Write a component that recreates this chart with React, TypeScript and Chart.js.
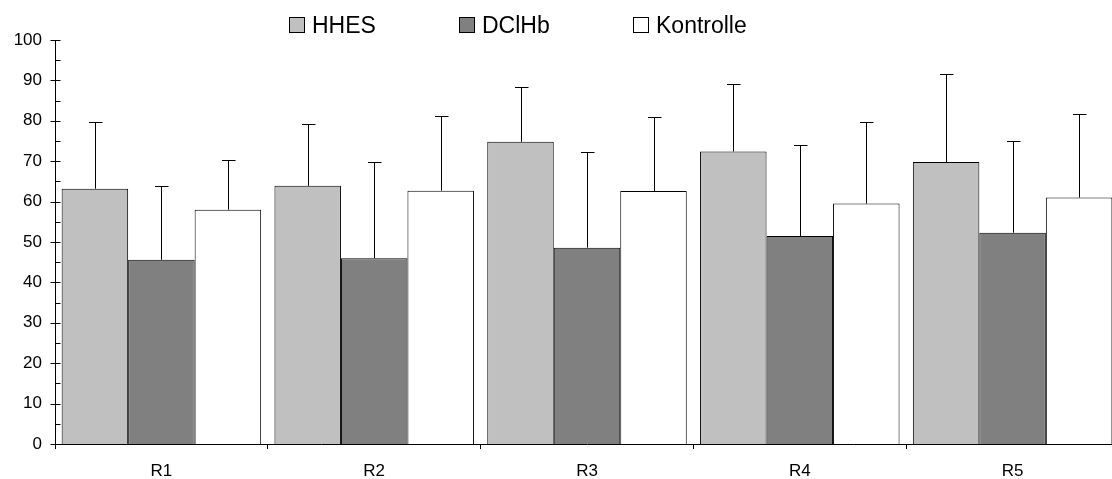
import React, { useEffect, useRef } from "react";
import { Chart, registerables } from "chart.js";

Chart.register(...registerables);

const categories = ["R1", "R2", "R3", "R4", "R5"];
const seriesNames = ["HHES", "DClHb", "Kontrolle"];
const hhes = [63.2, 63.9, 74.8, 72.4, 69.8];
const hhesSd = [16.4, 15.2, 13.6, 16.8, 21.7];
const dclhb = [45.6, 46.0, 48.6, 51.5, 52.3];
const dclhbSd = [18.2, 23.8, 23.6, 22.5, 22.8];
const kontrolle = [58.0, 62.7, 62.6, 59.5, 61.0];
const kontrolleSd = [12.2, 18.5, 18.4, 20.1, 20.8];
const yMin = 0;
const yMax = 100;
const yStep = 10;

const colors = ["#c0c0c0", "#808080", "#ffffff"];
const FONT = "'Liberation Sans', Arial, sans-serif";

const errorBarPlugin = {
  id: "errorBars",
  afterDatasetsDraw(chart: any) {
    const ctx = chart.ctx;
    const yScale = chart.scales.y;
    ctx.save();
    ctx.strokeStyle = "#000";
    ctx.lineWidth = 1;
    chart.data.datasets.forEach((ds: any, i: number) => {
      const meta = chart.getDatasetMeta(i);
      meta.data.forEach((el: any, j: number) => {
        const v = ds.data[j];
        const sd = ds.sd[j];
        const x = Math.round(el.x) + 0.5;
        const yTop = Math.round(yScale.getPixelForValue(v + sd)) + 0.5;
        const yBar = el.y;
        ctx.beginPath();
        ctx.moveTo(x, yBar);
        ctx.lineTo(x, yTop);
        ctx.moveTo(x - 6.5, yTop);
        ctx.lineTo(x + 7, yTop);
        ctx.stroke();
      });
    });
    ctx.restore();
  },
};

const yTickPlugin = {
  id: "yTicks",
  afterDraw(chart: any) {
    const ctx = chart.ctx;
    const yScale = chart.scales.y;
    const xLeft = Math.round(chart.chartArea.left) + 0.5;
    ctx.save();
    ctx.strokeStyle = "#000";
    ctx.lineWidth = 1;
    for (let v = yMin; v <= yMax; v += yStep / 2) {
      const y = Math.round(yScale.getPixelForValue(v)) + 0.5;
      const major = v % yStep === 0;
      ctx.beginPath();
      ctx.moveTo(major ? xLeft - 5 : xLeft, y);
      ctx.lineTo(xLeft + 5, y);
      ctx.stroke();
    }
    ctx.restore();
  },
};

const legendPlugin = {
  id: "customLegend",
  afterDraw(chart: any) {
    const ctx = chart.ctx;
    const boxX = [289, 459, 633];
    ctx.save();
    ctx.font = `23px ${FONT}`;
    ctx.textBaseline = "alphabetic";
    seriesNames.forEach((name, i) => {
      const bx = boxX[i];
      ctx.fillStyle = colors[i];
      ctx.fillRect(bx, 18, 15, 15);
      ctx.strokeStyle = "#000";
      ctx.lineWidth = 1;
      ctx.strokeRect(bx + 0.5, 17.5, 15, 15);
      ctx.fillStyle = "#000";
      ctx.fillText(name, bx + 23, 33);
    });
    ctx.restore();
  },
};

export default function App() {
  const ref = useRef<HTMLCanvasElement>(null);
  useEffect(() => {
    if (!ref.current) return;
    const sdSets = [hhesSd, dclhbSd, kontrolleSd];
    const valSets = [hhes, dclhb, kontrolle];
    const chart = new Chart(ref.current, {
      type: "bar",
      data: {
        labels: categories,
        datasets: seriesNames.map((name, i) => ({
          label: name,
          data: valSets[i],
          sd: sdSets[i],
          backgroundColor: colors[i],
          borderColor: "#000",
          borderWidth: 1,
          barPercentage: 1,
          categoryPercentage: 0.9375,
        })) as any,
      },
      options: {
        animation: false,
        responsive: true,
        maintainAspectRatio: false,
        layout: { padding: { top: 40, right: 6, left: 0, bottom: 0 } },
        plugins: {
          legend: { display: false },
          tooltip: { enabled: false },
        },
        scales: {
          x: {
            grid: {
              display: true,
              drawOnChartArea: false,
              drawTicks: true,
              tickLength: 5,
              color: "#000",
              offset: true,
            },
            border: { display: true, color: "#000", width: 1 },
            ticks: { color: "#000", font: { family: FONT, size: 17 }, padding: 12 },
            afterFit(scale: any) {
              scale.height = 35;
              scale.paddingLeft = 0;
              scale.paddingRight = 0;
            },
          },
          y: {
            min: yMin,
            max: yMax,
            grid: { display: false, drawTicks: false },
            border: { display: true, color: "#000", width: 1 },
            ticks: {
              stepSize: yStep,
              color: "#000",
              font: { family: FONT, size: 17 },
              padding: 13,
            },
            afterFit(scale: any) {
              scale.width = 55;
              scale.paddingTop = 0;
              scale.paddingBottom = 0;
            },
          },
        },
      },
      plugins: [errorBarPlugin, yTickPlugin, legendPlugin],
    });
    return () => chart.destroy();
  }, []);

  return (
    <div
      style={{
        position: "fixed",
        left: 0,
        top: 0,
        width: 1112,
        height: 479,
        overflow: "hidden",
        background: "#fff",
      }}
    >
      <div style={{ position: "relative", width: 1125, height: 479 }}>
        <canvas ref={ref} />
      </div>
    </div>
  );
}
